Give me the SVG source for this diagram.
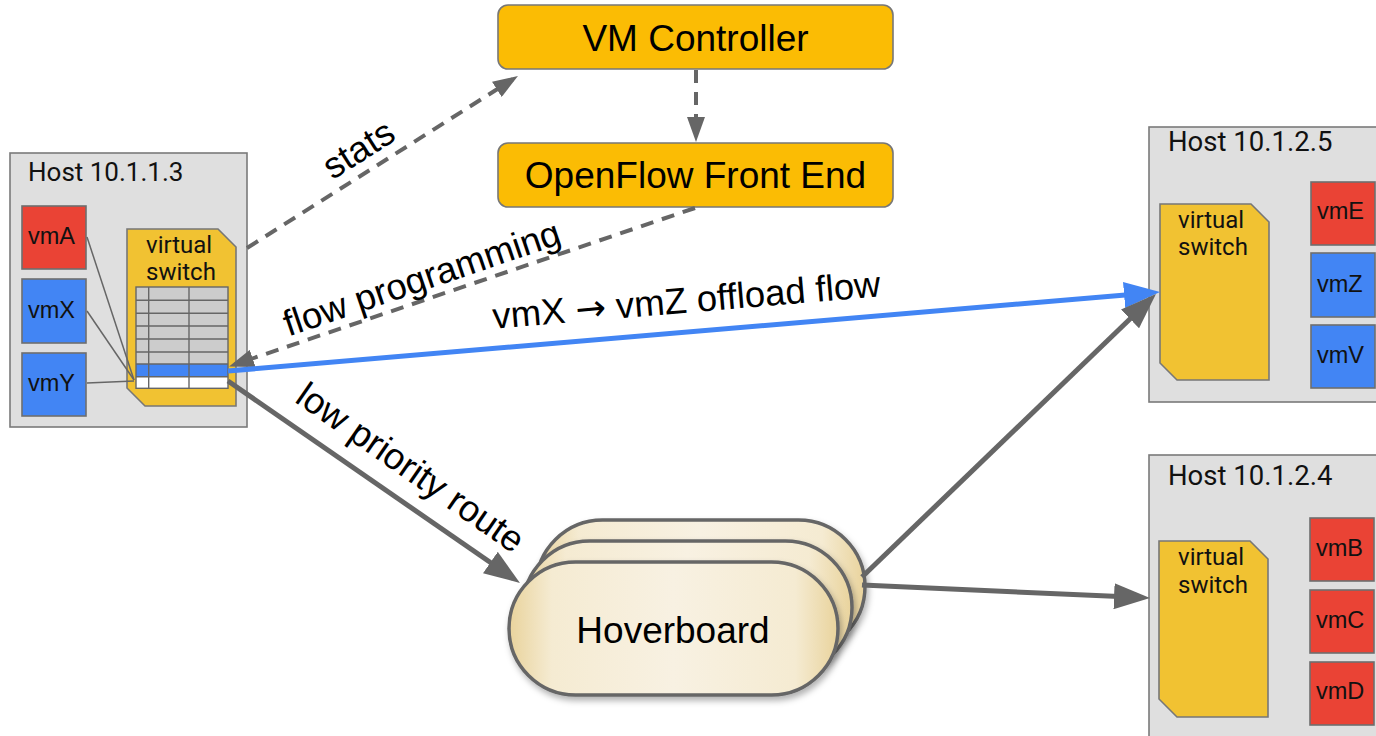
<svg xmlns="http://www.w3.org/2000/svg" width="1376" height="736" viewBox="0 0 1376 736">
<style>
.host{fill:#dfdfdf;stroke:#7a7a7a;stroke-width:1.6}
.ht{font-family:Roboto,"Liberation Sans",sans-serif;font-size:26px;fill:#111}
.ht2{font-family:Roboto,"Liberation Sans",sans-serif;font-size:27.5px;fill:#111}
.vs{fill:#f1c232;stroke:#777;stroke-width:1.6}
.vst{font-family:Roboto,"Liberation Sans",sans-serif;font-size:24px;fill:#111}
.red{fill:#ea4335;stroke:#6e6e6e;stroke-width:1.6}
.blue{fill:#4285f4;stroke:#6e6e6e;stroke-width:1.6}
.vmt{font-family:"Liberation Sans",Arial,sans-serif;font-size:23.5px;fill:#111}
.ctl{fill:#fbbc04;stroke:#777;stroke-width:1.6}
.ct{font-family:"Liberation Sans",Arial,sans-serif;font-size:37px;fill:#000;text-anchor:middle}
.lbl{font-family:"Liberation Sans",Arial,sans-serif;font-size:36.5px;fill:#000;text-anchor:middle}
.arw{font-family:"DejaVu Sans",sans-serif}
.hb{fill:url(#hbg);stroke:#666;stroke-width:3.5}
.dash{fill:none;stroke:#666;stroke-width:4;stroke-dasharray:13 9}
.solid{fill:none;stroke:#666;stroke-width:5}
.bl{fill:none;stroke:#4285f4;stroke-width:5}
.thin{fill:none;stroke:#666;stroke-width:1.5}
.tbl{stroke:#666;stroke-width:1.4}
</style>
<defs>
<linearGradient id="hbg" x1="0" y1="0" x2="1" y2="0">
<stop offset="0" stop-color="#e9d39c"/>
<stop offset="0.13" stop-color="#f5ebd2"/>
<stop offset="0.5" stop-color="#f8f1e2"/>
<stop offset="0.87" stop-color="#f5ebd2"/>
<stop offset="1" stop-color="#e9d39c"/>
</linearGradient>
<filter id="sh" x="-10%" y="-10%" width="125%" height="135%">
<feDropShadow dx="2" dy="4" stdDeviation="3" flood-color="#000" flood-opacity="0.3"/>
</filter>
<marker id="arrG" markerUnits="userSpaceOnUse" viewBox="0 0 36 26" markerWidth="36" markerHeight="26" refX="28" refY="13" orient="auto">
<path d="M0,0 L36,13 L0,26 z" fill="#666"/>
</marker>
<marker id="arrB" markerUnits="userSpaceOnUse" viewBox="0 0 36 26" markerWidth="36" markerHeight="26" refX="28" refY="13" orient="auto">
<path d="M0,0 L36,13 L0,26 z" fill="#4285f4"/>
</marker>
<marker id="arrD" markerUnits="userSpaceOnUse" viewBox="0 0 25 18" markerWidth="25" markerHeight="18" refX="19" refY="9" orient="auto">
<path d="M0,0 L25,9 L0,18 z" fill="#666"/>
</marker>
</defs>
<rect width="1376" height="736" fill="#fff"/>

<g id="host-10-1-1-3">
<rect class="host" x="10" y="153" width="237" height="274"/>
<text class="ht" x="28" y="181">Host 10.1.1.3</text>
<rect class="red" x="22" y="206" width="64" height="63"/>
<text class="vmt" x="28" y="244">vmA</text>
<rect class="blue" x="22" y="279" width="64" height="64"/>
<text class="vmt" x="28" y="318">vmX</text>
<rect class="blue" x="22" y="353" width="64" height="63"/>
<text class="vmt" x="28" y="391">vmY</text>
<g id="vswitch-1">
<polygon class="vs" points="127,229 218,229 236,247 236,406 145,406 127,388"/>
<text class="vst" x="146" y="253">virtual</text>
<text class="vst" x="146" y="280">switch</text>
<rect x="136" y="287" width="92" height="77" fill="#cccccc"/>
<rect x="136" y="364" width="92" height="12.7" fill="#4285f4"/>
<rect x="136" y="376.7" width="92" height="11.6" fill="#ffffff"/>
<g class="tbl">
<rect x="136" y="287" width="92" height="101.3" fill="none"/>
<line x1="136" y1="300.3" x2="228" y2="300.3"/>
<line x1="136" y1="313.3" x2="228" y2="313.3"/>
<line x1="136" y1="326" x2="228" y2="326"/>
<line x1="136" y1="339" x2="228" y2="339"/>
<line x1="136" y1="352" x2="228" y2="352"/>
<line x1="136" y1="364" x2="228" y2="364"/>
<line x1="136" y1="376.7" x2="228" y2="376.7"/>
<line x1="148.7" y1="287" x2="148.7" y2="388.3"/>
<line x1="189" y1="287" x2="189" y2="388.3"/>
</g>
</g>
<line class="thin" x1="87" y1="237" x2="134" y2="380"/>
<line class="thin" x1="87" y1="311" x2="134" y2="380"/>
<line class="thin" x1="87" y1="383" x2="134" y2="381"/>
</g>

<g id="host-10-1-2-5">
<rect class="host" x="1149" y="127" width="232" height="275"/>
<text class="ht2" x="1168" y="151">Host 10.1.2.5</text>
<polygon class="vs" points="1160,204 1251,204 1269,222 1269,380 1177,380 1160,363"/>
<text class="vst" x="1178" y="228">virtual</text>
<text class="vst" x="1178" y="255">switch</text>
<rect class="red" x="1311" y="182" width="64" height="63"/>
<text class="vmt" x="1317" y="219">vmE</text>
<rect class="blue" x="1311" y="253" width="64" height="64"/>
<text class="vmt" x="1317" y="292">vmZ</text>
<rect class="blue" x="1311" y="325" width="64" height="63"/>
<text class="vmt" x="1317" y="363">vmV</text>
</g>

<g id="host-10-1-2-4">
<rect class="host" x="1149" y="455" width="232" height="300"/>
<text class="ht2" x="1168" y="485">Host 10.1.2.4</text>
<polygon class="vs" points="1159,541 1250,541 1268,559 1268,717 1177,717 1159,699"/>
<text class="vst" x="1178" y="565">virtual</text>
<text class="vst" x="1178" y="593">switch</text>
<rect class="red" x="1310" y="518" width="64" height="63"/>
<text class="vmt" x="1316" y="556">vmB</text>
<rect class="red" x="1310" y="590" width="64" height="63"/>
<text class="vmt" x="1316" y="628">vmC</text>
<rect class="red" x="1310" y="662" width="64" height="63"/>
<text class="vmt" x="1316" y="699">vmD</text>
</g>

<g id="vm-controller">
<rect class="ctl" x="498" y="5" width="395" height="64" rx="10"/>
<text class="ct" x="695.5" y="51">VM Controller</text>
</g>

<g id="openflow-front-end">
<rect class="ctl" x="498" y="143" width="395" height="64" rx="10"/>
<text class="ct" x="695.5" y="188">OpenFlow Front End</text>
</g>

<g id="hoverboard">
<rect class="hb" filter="url(#sh)" x="536" y="520" width="329" height="133" rx="66.5"/>
<rect class="hb" filter="url(#sh)" x="523" y="541" width="329" height="133" rx="66.5"/>
<rect class="hb" filter="url(#sh)" x="509" y="562" width="329" height="133" rx="66.5"/>
<text class="ct" x="673" y="643">Hoverboard</text>
</g>

<g id="connectors">
<line class="dash" x1="247" y1="248" x2="512.9" y2="79.2" marker-end="url(#arrD)"/>
<line class="dash" x1="696" y1="70" x2="696" y2="136" marker-end="url(#arrD)"/>
<line class="dash" x1="695" y1="208" x2="234.7" y2="364.5" marker-end="url(#arrD)"/>
<line class="bl" x1="228" y1="371" x2="1152" y2="292.7" marker-end="url(#arrB)"/>
<line class="solid" x1="228" y1="381" x2="513.4" y2="578.4" marker-end="url(#arrG)"/>
<line class="solid" x1="862" y1="577" x2="1150.2" y2="299.5" marker-end="url(#arrG)"/>
<line class="solid" x1="862" y1="585" x2="1142" y2="597.6" marker-end="url(#arrG)"/>
<text class="lbl" transform="translate(371,169) rotate(-32.4)" x="0" y="-11">stats</text>
<text class="lbl" transform="translate(429,299.3) rotate(-18.8)" x="0" y="-10">flow programming</text>
<text class="lbl" transform="translate(689,331.5) rotate(-4.8)" x="0" y="-19">vmX <tspan class="arw">→</tspan> vmZ offload flow</text>
<text class="lbl" transform="translate(392,494) rotate(34.8)" x="0" y="-20">low priority route</text>
</g>
</svg>
